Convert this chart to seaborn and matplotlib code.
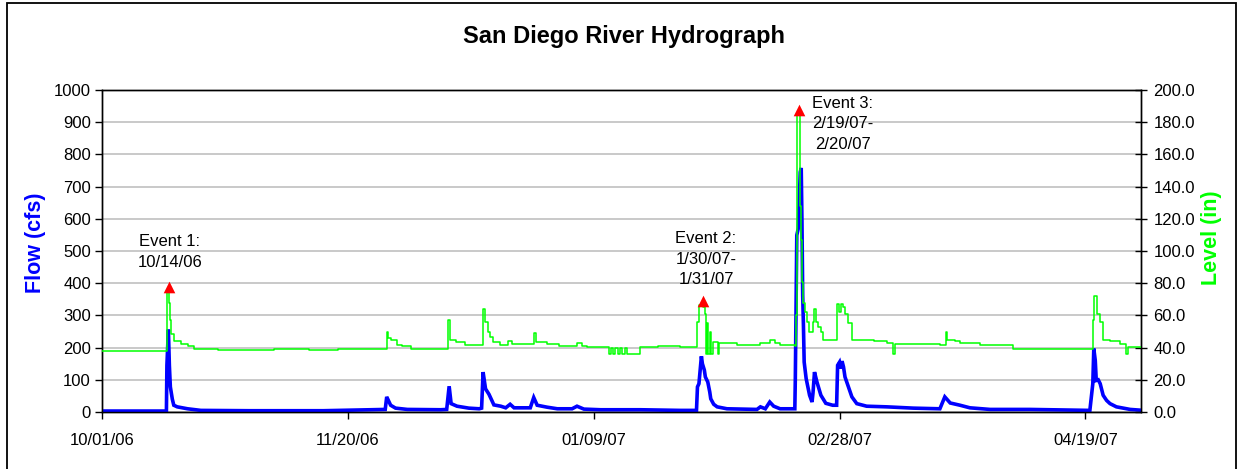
import numpy as np
import pandas as pd
import matplotlib
matplotlib.use("Agg")
import matplotlib.pyplot as plt
import matplotlib.dates as mdates
import seaborn as sns
from matplotlib.patches import Rectangle

# ---------------- data ----------------
start_date = pd.Timestamp("2006-10-01")

# Flow (cfs) - days since 10/01/06
flow_day = [0, 2, 5, 8, 13.1, 13.2, 13.5, 13.7, 13.9, 14.3, 14.6, 15.3, 17.4, 20.1, 30, 45,
            54.6, 57.6, 57.9, 58.7, 59.7, 62.1, 68.9, 70.1, 70.6, 71.0, 72.2, 74.6, 76.7,
            77.2, 77.5, 78.0, 78.7, 79.7, 81.1, 82.1, 83.0, 83.8, 87.1, 87.8, 88.5, 90.5,
            92.6, 95.6, 96.6, 98.0, 101.4, 109.5, 117.6, 120.9, 121.1, 121.4, 121.9, 122.1,
            122.5, 122.7, 123.2, 123.6, 123.8, 124.4, 125.1, 127.1, 133.2, 133.9, 134.9,
            135.8, 136.6, 137.9, 140.9, 141.0, 141.3, 141.6, 142.0, 142.2, 142.35, 142.5,
            142.65, 142.8, 143.2, 143.9, 144.4, 144.6, 144.9, 145.4, 146.2, 147.2, 148.6,
            149.4, 149.6, 150.0, 150.3, 150.5, 150.8, 151.1, 151.8, 152.5, 153.5, 155.5,
            159.6, 165.0, 170.4, 171.4, 172.5, 174.5, 176.5, 180.6, 188.7, 200.9, 201.5,
            201.7, 202.0, 202.2, 202.6, 203.0, 203.6, 204.3, 205.0, 206.3, 209.1, 211.8]
flow_cfs = [3, 3, 3, 3, 3, 145, 256, 145, 78, 40, 21, 16, 10, 5, 4, 4,
            7, 8, 47, 21, 12, 8, 7, 8, 80, 26, 18, 12, 10,
            12, 124, 72, 55, 22, 18, 13, 24, 13, 13, 45, 21, 15,
            10, 10, 18, 9, 7, 7, 5, 5, 78, 88, 173, 150,
            130, 109, 93, 62, 41, 24, 16, 10, 8, 16, 10,
            31, 18, 10, 10, 104, 549, 570, 745, 758, 590, 362,
            269, 155, 104, 52, 31, 60, 124, 93, 52, 27, 21,
            21, 145, 155, 135, 158, 140, 109, 78, 47, 26, 18,
            16, 12, 10, 47, 28, 21, 13, 8, 8, 5, 88,
            197, 160, 98, 100, 88, 52, 36, 26, 16, 8, 5]

# Level (in) - days since 10/01/06
level_day = [0, 13.3, 13.6, 13.8, 14.1, 14.6, 16.0, 17.4, 18.7, 23.5, 35, 42, 48, 57.9, 58.2,
             58.7, 60.0, 61, 62.8, 65.5, 68.9, 70.4, 70.7, 71.9, 73.8, 77.5, 77.8, 78.5, 79.0,
             79.5, 81.0, 82.5, 83.3, 87.8, 88.2, 90.5, 93, 96.6, 97.6, 98.7, 103.1, 103.5,
             104.0, 104.4, 104.9, 105.3, 105.8, 106.3, 106.7, 109.5, 113, 117.6, 121.0, 121.5,
             122.3, 122.6, 122.8, 123.0, 123.3, 123.6, 123.9, 124.2, 125.3, 125.5, 129.1,
             133.9, 135.8, 136.9, 137.9, 141.0, 141.2, 141.4, 141.9, 142.1, 142.4, 142.6,
             142.9, 143.3, 143.8, 144.6, 144.9, 145.3, 145.7, 146.3, 146.6, 149.5, 149.9,
             150.3, 150.7, 151.1, 151.8, 152.5, 156.9, 159.6, 160.9, 161.2, 165, 170.4,
             171.6, 171.9, 173.5, 174.5, 178.6, 185.3, 190, 201.6, 201.8, 202.3, 203.0,
             203.5, 205, 207, 208.3, 208.6, 211.8]
level_in = [37.8, 74.6, 68, 57, 48.7, 44, 42.5, 40.8, 39, 38.8, 39.0, 38.7, 39.1, 49.7, 46,
            44.5, 41.8, 40.8, 39.4, 39, 39.4, 57, 44.5, 43.5, 41.4, 64.2, 56, 49.7, 46.6,
            43.5, 41.4, 44, 42, 49.3, 43.5, 42.5, 40.8, 42.9, 40.8, 40.4, 36, 40,
            36, 40, 36, 40, 36, 40, 36, 40.4, 40.8, 40.4, 56, 66.3,
            65.3, 61, 36, 55, 36, 50, 36, 43.5, 36, 42.9, 41.4,
            42.9, 44.5, 42.9, 41.4, 41, 60, 186, 128, 107, 81, 68,
            62, 56, 50, 56, 64, 56, 53, 50, 45, 67.3, 62,
            67.3, 65.3, 61, 55, 44.5, 43.9, 43.1, 35.8, 42.5, 42, 41.4,
            49.7, 44.5, 44.1, 42.9, 41.4, 39.4, 38.9, 57, 71.9, 61.1, 56,
            44.5, 43.9, 42.5, 35.8, 40.4, 39.4]

# Event markers (on the flow axis)
event_day = [13.6, 122.2, 141.8]
event_flow = [388, 345, 937]
event_labels = ["Event 1:\n10/14/06", "Event 2:\n1/30/07-\n1/31/07", "Event 3:\n2/19/07-\n2/20/07"]

xtick_day = [0, 50, 100, 150, 200]
flow_ticks = list(range(0, 1001, 100))
level_ticks = list(range(0, 201, 20))

assert len(flow_day) == len(flow_cfs), (len(flow_day), len(flow_cfs))
assert len(level_day) == len(level_in), (len(level_day), len(level_in))

# ---------------- style ----------------
sns.set_style("white")
plt.rcParams["font.family"] = ["Liberation Sans", "DejaVu Sans"]
plt.rcParams["text.color"] = "black"
plt.rcParams["axes.labelcolor"] = "black"
plt.rcParams["xtick.color"] = "black"
plt.rcParams["ytick.color"] = "black"

W, H = 1238, 469
fig = plt.figure(figsize=(W / 100, H / 100), dpi=100)
L, R, T, B = 102, 1141, 90, 412
ax = fig.add_axes([L / W, 1 - B / H, (R - L) / W, (B - T) / H])

flow_df = pd.DataFrame({"date": start_date + pd.to_timedelta(flow_day, unit="D"), "flow": flow_cfs})
level_df = pd.DataFrame({"date": start_date + pd.to_timedelta(level_day, unit="D"), "level": level_in})

sns.lineplot(data=flow_df, x="date", y="flow", ax=ax, color="#0000FF", linewidth=2.6,
             solid_joinstyle="miter", zorder=3)
ax2 = ax.twinx()
sns.lineplot(data=level_df, x="date", y="level", ax=ax2, color="#00FF00", linewidth=1.1,
             drawstyle="steps-post", zorder=3)

# event triangles drawn above both lines, in flow units
ev_dates = mdates.date2num(start_date + pd.to_timedelta(event_day, unit="D"))
ax2.scatter(ev_dates, event_flow, marker="^", s=70, color="#FF0000", zorder=5,
            transform=ax.transData, clip_on=False, linewidths=0)

x0 = start_date
x1 = start_date + pd.Timedelta(days=211.3)
ax.set_xlim(x0, x1)
ax2.set_xlim(x0, x1)
ax.set_ylim(0, 1000)
ax2.set_ylim(0, 200)

ax.set_xticks(start_date + pd.to_timedelta(xtick_day, unit="D"))
ax.xaxis.set_major_formatter(mdates.DateFormatter("%m/%d/%y"))
ax.set_yticks(flow_ticks)
ax.set_yticklabels([str(v) for v in flow_ticks])
ax2.set_yticks(level_ticks)
ax2.set_yticklabels([f"{v:.1f}" for v in level_ticks])

ax.yaxis.grid(True, color="#C0C0C0", linewidth=1.2)
ax.xaxis.grid(False)
ax2.grid(False)
ax.set_xlabel("")
ax.set_ylabel("")
ax2.set_ylabel("")

for a in (ax, ax2):
    for s in a.spines.values():
        s.set_visible(True)
        s.set_color("black")
        s.set_linewidth(1.0)

ax.tick_params(axis="y", which="major", direction="out", length=5, width=1, pad=3,
               labelsize=12, colors="black", left=True)
ax.tick_params(axis="x", which="major", direction="out", length=5, width=1, pad=10,
               labelsize=12, colors="black", bottom=True)
ax2.tick_params(axis="y", which="major", direction="inout", length=8, width=1, pad=5,
                labelsize=12, colors="black", right=True)

# ---------------- texts ----------------
fig.text(624 / W, 1 - 36 / H, "San Diego River Hydrograph", ha="center", va="center",
         fontsize=17, fontweight="bold", color="black")
fig.text(35 / W, 1 - 243 / H, "Flow (cfs)", rotation=90, ha="center", va="center",
         fontsize=15.5, fontweight="bold", color="#0000FF")
fig.text(1211 / W, 1 - 238 / H, "Level (in)", rotation=90, ha="center", va="center",
         fontsize=15.5, fontweight="bold", color="#00FF00")

event_text_pos = [(170, 252), (706, 259), (843, 124)]
for (px, py), lab in zip(event_text_pos, event_labels):
    fig.text(px / W, 1 - py / H, lab, ha="center", va="center", fontsize=12,
             linespacing=1.45, multialignment="center", color="black")

# outer chart border
fig.patches.append(Rectangle((7 / W, -0.01), (1236 - 7) / W, (H - 3) / H + 0.01,
                             transform=fig.transFigure, fill=False, edgecolor="black",
                             linewidth=1.3))

fig.savefig("out.png", dpi=100)
